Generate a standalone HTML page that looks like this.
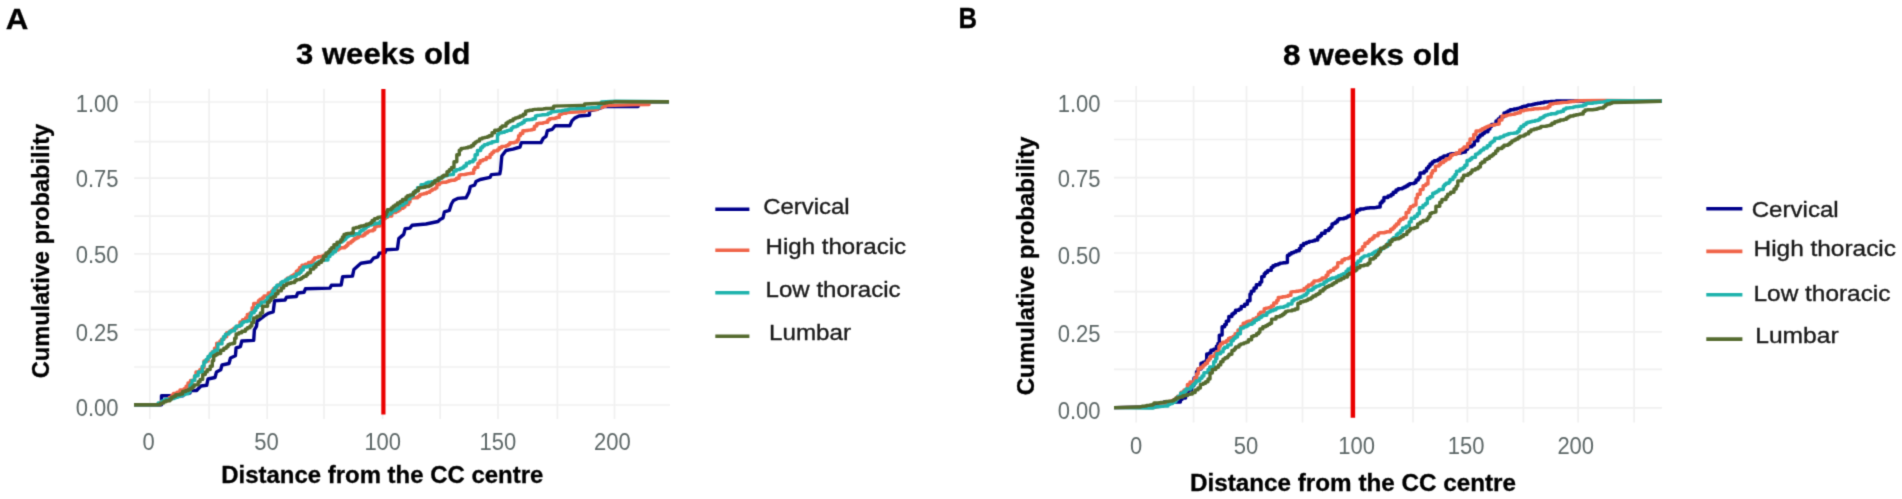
<!DOCTYPE html>
<html lang="en"><head><meta charset="utf-8"><title>Cumulative probability of distance from the CC centre</title>
<style>html,body{margin:0;padding:0;background:#fff;}body{width:1902px;height:499px;overflow:hidden;}svg{display:block;}text{font-family:"Liberation Sans",Arial,sans-serif;}</style>
</head><body>
<svg width="1902" height="499" viewBox="0 0 1902 499">
<defs><filter id="soft" x="0" y="0" width="1902" height="499" filterUnits="userSpaceOnUse" color-interpolation-filters="sRGB"><feConvolveMatrix order="3" kernelMatrix="0.0225 0.105 0.0225 0.105 0.49 0.105 0.0225 0.105 0.0225" divisor="1" edgeMode="duplicate" preserveAlpha="false"/></filter></defs>
<g filter="url(#soft)">
<rect width="1902" height="499" fill="#ffffff"/>
<g stroke="#f0f0f0" stroke-width="1.7" fill="none"><line x1="149.8" y1="88.7" x2="149.8" y2="419.0"/><line x1="209.1" y1="88.7" x2="209.1" y2="419.0"/><line x1="267.2" y1="88.7" x2="267.2" y2="419.0"/><line x1="324.0" y1="88.7" x2="324.0" y2="419.0"/><line x1="382.6" y1="88.7" x2="382.6" y2="419.0"/><line x1="440.2" y1="88.7" x2="440.2" y2="419.0"/><line x1="498.0" y1="88.7" x2="498.0" y2="419.0"/><line x1="557.4" y1="88.7" x2="557.4" y2="419.0"/><line x1="614.5" y1="88.7" x2="614.5" y2="419.0"/><line x1="134.2" y1="405.0" x2="670.0" y2="405.0"/><line x1="134.2" y1="367.0" x2="670.0" y2="367.0"/><line x1="134.2" y1="329.7" x2="670.0" y2="329.7"/><line x1="134.2" y1="291.6" x2="670.0" y2="291.6"/><line x1="134.2" y1="253.8" x2="670.0" y2="253.8"/><line x1="134.2" y1="216.1" x2="670.0" y2="216.1"/><line x1="134.2" y1="178.2" x2="670.0" y2="178.2"/><line x1="134.2" y1="141.7" x2="670.0" y2="141.7"/><line x1="134.2" y1="102.0" x2="670.0" y2="102.0"/></g>
<polyline points="134.0,404.8 161.5,404.8 161.5,395.8 183.0,395.8 183.0,393.0 190.0,393.0 190.0,390.5 196.8,390.5 197.5,389.5 201.0,386.0 206.7,385.3 208.0,379.0 215.0,377.5 216.5,372.0 220.7,369.8 222.0,365.0 229.0,363.5 230.5,358.0 235.4,355.8 236.1,348.0 240.4,346.7 241.8,341.0 253.7,340.4 254.4,329.8 256.5,326.3 257.2,320.7 258.4,320.4 264.0,316.1 268.2,313.3 273.2,311.9 274.6,300.7 285.1,300.0 286.5,297.2 296.3,296.5 297.7,293.0 304.0,292.3 305.4,288.8 330.0,288.1 331.4,285.3 341.2,285.0 342.6,276.8 352.5,276.1 353.9,269.5 360.9,263.2 370.7,261.8 373.5,258.2 377.7,256.8 379.1,253.3 385.0,252.6 386.1,249.8 397.4,249.1 398.8,238.6 403.7,234.4 405.1,228.8 410.0,228.1 412.1,225.3 426.0,224.0 438.0,221.5 440.0,219.5 443.0,218.0 444.4,211.8 449.3,210.4 451.4,204.0 453.5,200.5 457.7,198.4 466.1,197.7 469.0,192.1 470.4,186.5 474.6,185.1 476.0,181.6 480.2,179.5 490.0,177.4 491.4,174.6 499.8,173.9 500.6,169.5 501.8,156.1 506.0,150.5 513.0,149.1 520.0,147.0 521.4,142.6 541.0,142.6 543.2,138.4 546.0,136.3 547.4,130.7 552.3,129.3 555.1,125.8 569.8,125.8 571.9,120.9 574.7,118.1 579.0,116.0 588.1,115.3 589.5,115.0 589.5,110.8 598.0,109.0 604.0,106.6 638.0,106.6 640.0,101.8 669.0,101.8" fill="none" stroke="#00008b" stroke-width="3.40" stroke-linejoin="round" stroke-linecap="butt"/>
<polyline points="134.0,404.8 156.0,404.8 157.7,404.8 157.7,404.0 160.8,404.0 160.8,401.7 164.0,401.7 164.0,401.0 167.3,401.0 167.3,398.9 169.3,398.9 169.3,397.4 172.0,397.4 172.0,395.0 173.5,395.0 173.5,393.4 177.0,393.4 177.0,392.1 180.0,392.1 180.0,390.0 184.1,390.0 184.1,388.7 186.1,388.7 186.1,386.3 188.0,386.3 188.0,383.0 190.5,383.0 190.5,380.5 194.4,380.5 194.4,376.3 196.0,376.3 196.0,372.0 199.8,372.0 199.8,369.7 201.8,369.7 201.8,367.7 204.0,367.7 204.0,361.0 208.2,361.0 208.2,357.4 209.8,357.4 209.8,355.2 212.0,355.2 212.0,352.0 214.5,352.0 214.5,348.2 216.7,348.2 216.7,343.1 220.0,343.1 220.0,341.0 221.5,341.0 221.5,339.3 224.0,339.3 224.0,336.8 226.7,336.8 226.7,332.6 230.0,332.6 230.0,331.0 231.9,331.0 231.9,329.7 233.8,329.7 233.8,328.2 236.8,328.2 236.8,326.2 240.0,326.2 240.0,322.0 242.6,322.0 242.6,319.8 245.7,319.8 245.7,317.6 247.3,317.6 247.3,314.4 250.0,314.4 250.0,313.0 252.1,313.0 252.1,307.7 253.7,307.7 253.7,303.4 258.4,303.4 258.4,300.7 260.0,300.7 260.0,299.1 262.5,299.1 262.5,297.6 264.0,297.6 264.0,296.0 268.2,296.0 268.2,293.0 271.5,293.0 271.5,291.3 273.4,291.3 273.4,288.8 276.5,288.8 276.5,286.7 278.0,286.7 278.0,285.0 280.5,285.0 280.5,282.9 282.1,282.9 282.1,281.6 285.4,281.6 285.4,280.1 287.1,280.1 287.1,278.3 290.0,278.3 290.0,277.0 291.7,277.0 291.7,275.8 293.9,275.8 293.9,274.3 296.3,274.3 296.3,271.2 298.0,271.2 298.0,269.9 299.6,269.9 299.6,267.4 302.0,267.4 302.0,265.1 305.3,265.1 305.3,264.1 308.5,264.1 308.5,262.5 311.8,262.5 311.8,261.4 313.2,261.4 313.2,259.6 314.7,259.6 314.7,257.6 318.1,257.6 318.1,256.8 321.4,256.8 321.4,256.1 324.0,256.1 324.0,255.0 326.1,255.0 326.1,253.4 330.8,253.4 330.8,252.5 332.2,252.5 332.2,251.8 334.6,251.8 334.6,250.6 336.0,250.6 336.0,250.0 338.3,250.0 338.3,248.8 340.0,248.8 340.0,247.8 345.0,247.8 345.0,246.5 346.5,246.5 346.5,245.3 348.0,245.3 348.0,243.0 351.0,243.0 351.0,241.4 352.7,241.4 352.7,240.3 354.1,240.3 354.1,238.8 356.4,238.8 356.4,237.7 358.4,237.7 358.4,236.1 363.2,236.1 363.2,235.0 365.0,235.0 365.0,233.0 367.5,233.0 367.5,231.8 368.9,231.8 368.9,230.9 372.9,230.9 372.9,229.7 374.7,229.7 374.7,226.9 376.3,226.9 376.3,226.0 379.8,226.0 379.8,222.4 382.0,222.4 382.0,220.0 383.6,220.0 383.6,218.6 385.5,218.6 385.5,217.3 387.6,217.3 387.6,216.0 391.8,216.0 391.8,212.6 396.0,212.6 396.0,211.4 398.2,211.4 398.2,210.0 400.2,210.0 400.2,208.4 403.0,208.4 403.0,207.1 404.9,207.1 404.9,204.6 408.6,204.6 408.6,202.1 410.0,202.1 410.0,198.4 414.2,197.7 417.8,197.7 417.8,196.4 419.7,196.4 419.7,194.8 421.2,194.8 421.2,194.1 424.0,194.1 424.0,193.5 426.7,193.5 426.7,192.4 429.7,192.4 429.7,191.1 431.1,191.1 431.1,190.2 432.5,190.2 432.5,189.1 435.3,189.1 435.3,187.9 436.9,187.9 436.9,184.5 439.5,184.5 439.5,183.0 440.9,183.0 440.9,182.6 442.6,182.6 442.6,182.2 446.5,182.2 446.5,181.6 448.7,181.6 448.7,180.7 450.9,180.7 450.9,180.3 454.9,180.3 454.9,179.5 456.4,179.5 456.4,178.2 459.1,178.2 459.1,175.3 460.5,175.3 460.5,174.6 465.2,174.6 465.2,174.3 466.5,174.3 466.5,173.9 467.9,173.9 467.9,173.6 470.4,173.6 470.4,173.2 473.7,173.2 473.7,169.5 474.9,169.5 474.9,167.4 477.9,167.4 477.9,163.2 480.0,163.2 480.0,160.7 482.9,160.7 482.9,159.6 486.3,159.6 486.3,157.5 490.1,157.5 490.1,154.4 491.9,154.4 491.9,152.6 493.7,152.6 493.7,150.9 497.5,150.9 497.5,149.8 499.1,149.8 499.1,147.7 501.6,147.7 501.6,146.4 506.0,146.4 506.0,145.6 508.2,145.6 508.2,144.4 509.8,144.4 509.8,142.8 514.4,142.8 514.4,142.1 517.2,142.1 517.2,140.0 518.6,140.0 518.6,135.8 520.3,135.8 520.3,133.5 522.8,133.5 522.8,130.7 525.9,130.7 525.9,130.5 527.9,130.5 527.9,130.1 531.1,130.1 531.1,129.8 532.6,129.8 532.6,129.3 534.4,129.3 534.4,126.1 536.8,126.1 536.8,123.7 538.8,123.7 538.8,123.2 543.1,123.2 543.1,122.6 545.3,122.6 545.3,122.3 547.8,122.3 547.8,119.9 549.5,119.9 549.5,118.8 551.5,118.8 551.5,118.5 555.2,118.5 555.2,118.0 556.5,118.0 556.5,117.4 559.3,117.4 559.3,114.6 560.9,114.6 560.9,114.1 562.2,114.1 562.2,113.3 566.3,113.3 566.3,112.5 581.8,111.8 584.6,111.8 584.6,110.4 586.7,110.4 586.7,110.1 589.6,110.1 589.6,109.9 592.5,109.9 592.5,109.8 594.4,109.8 594.4,109.6 597.3,109.6 597.3,108.1 600.0,108.1 600.0,107.5 602.5,107.5 602.5,106.4 605.6,106.4 605.6,105.6 632.0,104.8 647.0,104.6 649.0,104.6 649.0,101.8 669.0,101.8" fill="none" stroke="#f0654a" stroke-width="3.40" stroke-linejoin="round" stroke-linecap="butt"/>
<polyline points="134.0,404.8 156.0,404.8 158.2,404.8 158.2,402.9 162.0,402.9 162.0,401.0 164.0,401.0 164.0,400.1 165.5,400.1 165.5,399.2 171.0,399.2 171.0,398.5 174.2,398.5 174.2,397.8 175.9,397.8 175.9,397.2 177.8,397.2 177.8,396.5 180.0,396.5 180.0,395.5 183.0,395.5 183.0,394.6 185.3,394.6 185.3,393.9 188.0,393.9 188.0,392.0 190.0,392.0 190.0,385.0 192.0,385.0 192.0,380.4 194.8,380.4 194.8,375.7 198.2,375.7 198.2,372.0 202.3,372.0 202.3,366.1 203.9,366.1 203.9,362.0 206.1,362.0 206.1,359.4 208.0,359.4 208.0,356.5 210.4,356.5 210.4,353.6 212.8,353.6 212.8,351.7 215.0,351.7 215.0,350.2 217.9,350.2 217.9,343.9 222.0,343.9 222.0,339.6 223.5,339.6 223.5,336.8 225.4,336.8 225.4,334.1 229.0,334.1 229.0,332.0 231.0,332.0 231.0,330.7 234.7,330.7 234.7,328.3 236.0,328.3 236.0,326.3 239.7,326.3 239.7,325.2 241.8,325.2 241.8,322.8 243.5,322.8 243.5,321.6 247.4,321.6 247.4,320.7 250.0,320.7 250.0,316.1 251.2,316.1 251.2,312.7 254.2,312.7 254.2,310.5 255.8,310.5 255.8,307.6 257.7,307.6 257.7,305.3 261.2,305.3 261.2,302.1 265.1,302.1 265.1,300.7 267.3,300.7 267.3,297.5 269.3,297.5 269.3,296.3 271.0,296.3 271.0,294.4 272.8,294.4 272.8,290.5 274.9,290.5 274.9,287.4 276.9,287.4 276.9,285.1 281.0,285.1 281.0,282.5 282.6,282.5 282.6,281.5 285.3,281.5 285.3,280.0 288.0,280.0 288.0,278.2 290.7,278.2 290.7,276.9 294.5,276.9 294.5,276.1 296.3,276.1 296.3,274.0 299.4,274.0 299.4,272.6 301.1,272.6 301.1,270.0 303.3,270.0 303.3,267.0 307.1,267.0 307.1,266.7 308.5,266.7 308.5,266.0 310.4,266.0 310.4,265.6 313.9,265.6 313.9,264.5 315.7,264.5 315.7,263.1 317.4,263.1 317.4,262.1 319.2,262.1 319.2,261.1 321.2,261.1 321.2,260.4 324.4,260.4 324.4,260.0 328.0,260.0 328.0,256.6 330.0,256.6 330.0,254.0 332.8,254.0 332.8,251.8 335.6,251.8 335.6,249.0 337.0,249.0 337.0,246.3 339.3,246.3 339.3,242.1 342.2,242.1 342.2,240.7 344.0,240.7 344.0,239.3 345.8,239.3 345.8,237.3 347.4,237.3 347.4,236.3 349.0,236.3 349.0,235.3 353.9,235.3 353.9,234.7 355.3,234.7 355.3,233.7 359.8,233.7 359.8,231.5 361.2,231.5 361.2,230.3 363.3,230.3 363.3,229.0 365.0,229.0 365.0,228.1 366.3,228.1 366.3,226.4 368.5,226.4 368.5,225.1 371.7,225.1 371.7,224.4 373.7,224.4 373.7,223.8 376.3,223.8 376.3,223.2 380.2,223.2 380.2,221.2 382.0,221.2 382.0,218.0 383.5,218.0 383.5,216.6 387.5,216.6 387.5,214.0 390.9,214.0 390.9,212.1 392.6,212.1 392.6,210.6 396.0,210.6 396.0,209.3 397.4,209.3 397.4,208.4 399.4,208.4 399.4,205.4 402.9,205.4 402.9,204.1 404.4,204.1 404.4,202.8 406.6,202.8 406.6,199.0 410.0,199.0 410.0,196.0 413.1,196.0 413.1,193.3 415.0,193.3 415.0,191.0 417.5,191.0 417.5,187.7 421.0,187.7 421.0,184.6 424.7,184.6 424.7,184.0 426.1,184.0 426.1,183.0 428.0,183.0 428.0,182.3 431.5,182.3 431.5,181.8 434.1,181.8 434.1,181.1 436.0,181.1 436.0,180.0 439.7,180.0 439.7,177.8 442.1,177.8 442.1,177.0 443.7,177.0 443.7,176.0 445.9,176.0 445.9,175.6 447.8,175.6 447.8,174.9 450.7,174.9 450.7,174.6 453.5,174.6 453.5,171.0 456.3,171.0 456.3,169.6 460.1,169.6 460.1,168.4 462.2,168.4 462.2,167.7 463.9,167.7 463.9,166.0 466.3,166.0 466.3,163.1 469.5,163.1 469.5,161.8 473.1,161.8 473.1,159.8 475.1,159.8 475.1,154.7 477.4,154.7 477.4,150.5 480.7,150.5 480.7,147.7 482.4,147.7 482.4,146.1 484.3,146.1 484.3,144.6 487.7,144.6 487.7,143.5 489.5,143.5 489.5,143.0 492.0,143.0 492.0,141.8 494.7,141.8 494.7,141.4 497.5,141.4 497.5,134.4 498.7,134.4 498.7,132.9 501.8,132.9 501.8,132.3 504.6,132.3 504.6,131.4 506.9,131.4 506.9,130.6 508.8,130.6 508.8,130.2 511.4,130.2 511.4,128.1 513.0,128.1 513.0,126.7 516.2,126.7 516.2,126.1 518.0,126.1 518.0,124.5 520.0,124.5 520.0,123.7 522.1,123.7 522.1,122.5 524.2,122.5 524.2,120.2 526.5,120.2 526.5,119.7 530.1,119.7 530.1,119.5 532.6,119.5 532.6,118.8 535.4,118.8 535.4,116.0 536.9,116.0 536.9,115.4 539.7,115.4 539.7,115.1 542.1,115.1 542.1,114.8 545.3,114.8 545.3,114.6 548.1,114.6 548.1,113.3 550.9,113.3 550.9,111.8 554.2,111.8 554.2,111.5 556.3,111.5 556.3,111.2 557.9,111.2 557.9,111.0 562.1,111.0 562.1,110.4 564.7,110.4 564.7,110.0 567.6,110.0 567.6,109.5 569.1,109.5 569.1,108.9 575.9,108.9 575.9,108.8 577.9,108.8 577.9,108.6 580.4,108.6 580.4,108.5 583.6,108.5 583.6,108.3 585.1,108.3 585.1,108.1 587.5,108.1 587.5,108.0 588.9,108.0 588.9,107.9 590.9,107.9 590.9,107.8 592.4,107.8 592.4,107.7 594.1,107.7 594.1,107.6 595.8,107.6 595.8,107.5 599.0,107.5 599.0,104.4 601.4,104.4 601.4,101.9 616.0,101.2 669.0,101.8" fill="none" stroke="#1fb3ad" stroke-width="3.40" stroke-linejoin="round" stroke-linecap="butt"/>
<polyline points="134.0,404.8 156.0,404.8 160.3,404.8 160.3,403.5 162.0,403.5 162.0,403.0 163.7,403.0 163.7,401.7 166.0,401.7 166.0,400.7 170.0,400.7 170.0,399.0 171.7,399.0 171.7,397.1 173.9,397.1 173.9,396.2 175.7,396.2 175.7,394.8 180.0,394.8 180.0,394.0 182.6,394.0 182.6,391.5 185.7,391.5 185.7,390.5 188.4,390.5 188.4,389.5 190.7,389.5 190.7,388.3 192.7,388.3 192.7,386.6 194.2,386.6 194.2,384.9 198.2,384.9 198.2,381.8 200.1,381.8 200.1,379.4 202.7,379.4 202.7,374.6 205.3,374.6 205.3,371.9 207.2,371.9 207.2,369.6 210.2,369.6 210.2,366.3 212.3,366.3 212.3,360.7 213.7,360.7 213.7,355.8 215.5,355.8 215.5,354.7 217.3,354.7 217.3,353.5 220.7,353.5 220.7,350.2 223.8,350.2 223.8,348.3 226.3,348.3 226.3,346.7 228.0,346.7 228.0,344.8 229.6,344.8 229.6,343.9 232.6,343.9 232.6,343.2 234.7,343.2 234.7,338.2 236.1,338.2 236.1,334.0 238.8,334.0 238.8,332.7 241.8,332.7 241.8,331.2 245.4,331.2 245.4,329.1 247.4,329.1 247.4,327.7 250.0,327.7 250.0,326.0 251.8,326.0 251.8,322.6 253.7,322.6 253.7,317.9 257.0,317.9 257.0,316.1 260.4,316.1 260.4,313.0 262.6,313.0 262.6,306.3 267.6,306.3 267.6,302.3 269.4,302.3 269.4,300.6 271.0,300.6 271.0,297.9 273.4,297.9 273.4,296.6 275.6,296.6 275.6,293.8 278.0,293.8 278.0,290.9 281.3,290.9 281.3,288.1 283.7,288.1 283.7,285.4 286.5,285.4 286.5,283.9 288.6,283.9 288.6,283.2 291.0,283.2 291.0,282.5 294.7,282.5 294.7,280.8 296.3,280.8 296.3,279.6 300.1,279.6 300.1,278.8 301.7,278.8 301.7,277.6 303.4,277.6 303.4,276.4 306.1,276.4 306.1,274.7 307.7,274.7 307.7,272.9 310.4,272.9 310.4,269.1 313.8,269.1 313.8,267.0 316.0,267.0 316.0,264.2 318.9,264.2 318.9,262.3 321.6,262.3 321.6,260.0 323.4,260.0 323.4,256.2 326.0,256.2 326.0,253.0 328.5,253.0 328.5,251.4 330.0,251.4 330.0,249.1 331.5,249.1 331.5,247.7 333.9,247.7 333.9,244.7 337.0,244.7 337.0,242.1 340.8,242.1 340.8,239.8 342.4,239.8 342.4,237.0 344.0,237.0 344.0,234.4 346.0,234.4 346.0,233.8 347.5,233.8 347.5,233.4 351.0,233.4 351.0,233.0 353.2,233.0 353.2,228.1 356.0,228.1 356.0,227.5 359.2,227.5 359.2,226.5 360.9,226.5 360.9,226.0 363.8,226.0 363.8,225.5 366.2,225.5 366.2,224.2 368.7,224.2 368.7,223.6 370.7,223.6 370.7,222.5 372.1,222.5 372.1,220.4 374.5,220.4 374.5,218.6 377.7,218.6 377.7,217.5 381.2,216.8 384.6,216.8 384.6,215.2 386.1,215.2 386.1,211.9 387.4,211.9 387.4,209.7 391.2,209.7 391.2,208.0 393.2,208.0 393.2,206.3 395.1,206.3 395.1,205.0 397.4,205.0 397.4,203.0 400.2,203.0 400.2,201.4 402.5,201.4 402.5,199.5 406.0,199.5 406.0,197.0 407.5,197.0 407.5,195.8 410.0,195.8 410.0,194.9 413.4,194.9 413.4,192.2 415.6,192.2 415.6,190.7 418.4,190.7 418.4,187.9 420.2,187.9 420.2,187.6 423.5,187.6 423.5,187.2 425.4,187.2 425.4,186.5 429.2,186.5 429.2,185.6 431.1,185.6 431.1,184.6 432.5,184.6 432.5,183.0 434.7,183.0 434.7,180.7 438.1,180.7 438.1,178.1 442.1,178.1 442.1,176.3 443.7,176.3 443.7,175.3 447.0,175.3 447.0,171.6 449.3,171.6 449.3,169.6 451.5,169.6 451.5,167.4 454.0,167.4 454.0,161.8 456.8,161.8 456.8,154.7 459.3,154.7 459.3,150.1 461.1,150.1 461.1,148.4 463.5,148.4 463.5,148.1 465.9,148.1 465.9,147.7 468.1,147.7 468.1,147.0 471.2,147.0 471.2,145.7 473.4,145.7 473.4,143.7 475.1,143.7 475.1,142.1 476.9,142.1 476.9,141.1 479.5,141.1 479.5,138.9 482.1,138.9 482.1,137.9 484.6,137.9 484.6,137.4 487.2,137.4 487.2,136.7 489.1,136.7 489.1,135.8 492.0,135.8 492.0,132.8 494.7,132.8 494.7,130.2 498.6,130.2 498.6,129.4 500.4,129.4 500.4,127.4 502.1,127.4 502.1,126.0 506.0,126.0 506.0,123.2 507.8,123.2 507.8,121.9 510.0,121.9 510.0,120.7 513.0,120.7 513.0,118.9 515.2,118.9 515.2,117.9 517.7,117.9 517.7,117.3 520.0,117.3 520.0,116.0 523.2,116.0 523.2,114.2 525.6,114.2 525.6,111.1 527.5,111.1 527.5,110.8 529.3,110.8 529.3,110.3 532.6,110.3 532.6,109.6 534.1,109.6 534.1,109.4 537.5,109.4 537.5,109.3 542.2,109.3 542.2,109.1 543.8,109.1 543.8,108.7 545.4,108.7 545.4,108.5 548.6,108.5 548.6,108.4 550.9,108.4 550.9,108.2 553.7,108.2 553.7,106.1 581.8,105.4 584.6,105.4 584.6,104.0 601.4,103.3 605.3,103.3 605.3,102.8 607.6,102.8 607.6,102.4 609.4,102.4 609.4,102.3 612.0,102.3 612.0,102.1 614.0,102.1 614.0,101.8 669.0,101.8" fill="none" stroke="#556b2f" stroke-width="3.40" stroke-linejoin="round" stroke-linecap="butt"/>
<line x1="383.4" y1="89.0" x2="383.4" y2="414.5" stroke="#ea0000" stroke-width="4.2"/>
<text x="75.7" y="416.0" font-size="23.0" fill="#5e6868" textLength="42.8" lengthAdjust="spacingAndGlyphs">0.00</text>
<text x="75.7" y="340.5" font-size="23.0" fill="#5e6868" textLength="42.8" lengthAdjust="spacingAndGlyphs">0.25</text>
<text x="75.7" y="262.5" font-size="23.0" fill="#5e6868" textLength="42.8" lengthAdjust="spacingAndGlyphs">0.50</text>
<text x="75.7" y="186.6" font-size="23.0" fill="#5e6868" textLength="42.8" lengthAdjust="spacingAndGlyphs">0.75</text>
<text x="75.7" y="112.4" font-size="23.0" fill="#5e6868" textLength="42.8" lengthAdjust="spacingAndGlyphs">1.00</text>
<text x="142.4" y="450.0" font-size="23.0" fill="#5e6868" textLength="12.2" lengthAdjust="spacingAndGlyphs">0</text>
<text x="254.3" y="450.0" font-size="23.0" fill="#5e6868" textLength="24.5" lengthAdjust="spacingAndGlyphs">50</text>
<text x="364.4" y="450.0" font-size="23.0" fill="#5e6868" textLength="36.7" lengthAdjust="spacingAndGlyphs">100</text>
<text x="479.5" y="450.0" font-size="23.0" fill="#5e6868" textLength="36.7" lengthAdjust="spacingAndGlyphs">150</text>
<text x="594.0" y="450.0" font-size="23.0" fill="#5e6868" textLength="36.7" lengthAdjust="spacingAndGlyphs">200</text>
<text x="296.0" y="64.0" font-size="30.0" font-weight="bold" fill="#000" stroke="#000" stroke-width="0.3" textLength="174.5" lengthAdjust="spacingAndGlyphs">3 weeks old</text>
<text x="221.3" y="483.0" font-size="23.2" font-weight="bold" fill="#000" stroke="#000" stroke-width="0.3" textLength="322.0" lengthAdjust="spacingAndGlyphs">Distance from the CC centre</text>
<text transform="translate(48.6,378.3) rotate(-90)" font-size="23.5" font-weight="bold" fill="#000" stroke="#000" stroke-width="0.3" textLength="254.5" lengthAdjust="spacingAndGlyphs">Cumulative probability</text>
<text x="5.8" y="28.8" font-size="30.0" font-weight="bold" fill="#000" stroke="#000" stroke-width="0.3" textLength="22.6" lengthAdjust="spacingAndGlyphs">A</text>
<line x1="715.3" y1="209.3" x2="749.4" y2="209.3" stroke="#00008b" stroke-width="3.6"/>
<text x="763.2" y="214.3" font-size="22.0" fill="#1a1a1a" stroke="#1a1a1a" stroke-width="0.35" textLength="86.5" lengthAdjust="spacingAndGlyphs">Cervical</text>
<line x1="715.3" y1="250.2" x2="749.4" y2="250.2" stroke="#f0654a" stroke-width="3.6"/>
<text x="765.6" y="254.0" font-size="22.0" fill="#1a1a1a" stroke="#1a1a1a" stroke-width="0.35" textLength="140.5" lengthAdjust="spacingAndGlyphs">High thoracic</text>
<line x1="715.3" y1="292.8" x2="749.4" y2="292.8" stroke="#1fb3ad" stroke-width="3.6"/>
<text x="765.6" y="297.4" font-size="22.0" fill="#1a1a1a" stroke="#1a1a1a" stroke-width="0.35" textLength="135.0" lengthAdjust="spacingAndGlyphs">Low thoracic</text>
<line x1="715.3" y1="336.2" x2="749.4" y2="336.2" stroke="#556b2f" stroke-width="3.6"/>
<text x="769.0" y="339.9" font-size="22.0" fill="#1a1a1a" stroke="#1a1a1a" stroke-width="0.35" textLength="82.0" lengthAdjust="spacingAndGlyphs">Lumbar</text>
<g stroke="#f0f0f0" stroke-width="1.7" fill="none"><line x1="1136.2" y1="86.0" x2="1136.2" y2="422.4"/><line x1="1193.6" y1="86.0" x2="1193.6" y2="422.4"/><line x1="1246.5" y1="86.0" x2="1246.5" y2="422.4"/><line x1="1302.5" y1="86.0" x2="1302.5" y2="422.4"/><line x1="1413.0" y1="86.0" x2="1413.0" y2="422.4"/><line x1="1467.4" y1="86.0" x2="1467.4" y2="422.4"/><line x1="1523.4" y1="86.0" x2="1523.4" y2="422.4"/><line x1="1578.1" y1="86.0" x2="1578.1" y2="422.4"/><line x1="1634.1" y1="86.0" x2="1634.1" y2="422.4"/><line x1="1114.0" y1="407.8" x2="1662.0" y2="407.8"/><line x1="1114.0" y1="369.3" x2="1662.0" y2="369.3"/><line x1="1114.0" y1="331.9" x2="1662.0" y2="331.9"/><line x1="1114.0" y1="291.7" x2="1662.0" y2="291.7"/><line x1="1114.0" y1="253.0" x2="1662.0" y2="253.0"/><line x1="1114.0" y1="216.1" x2="1662.0" y2="216.1"/><line x1="1114.0" y1="177.6" x2="1662.0" y2="177.6"/><line x1="1114.0" y1="139.5" x2="1662.0" y2="139.5"/><line x1="1114.0" y1="101.2" x2="1662.0" y2="101.2"/></g>
<polyline points="1114.0,407.6 1150.0,407.0 1151.7,407.0 1151.7,406.6 1155.4,406.6 1155.4,405.7 1157.8,405.7 1157.8,404.5 1160.0,404.5 1160.0,404.0 1161.1,404.0 1161.1,402.9 1164.0,402.9 1164.0,402.0 1178.0,402.0 1180.4,402.0 1180.4,399.4 1182.0,399.4 1182.0,398.0 1185.6,398.0 1185.6,395.1 1188.0,395.1 1188.0,390.0 1191.7,390.0 1191.7,385.5 1194.0,385.5 1194.0,378.0 1196.5,378.0 1196.5,371.7 1198.0,371.7 1198.0,369.0 1201.0,369.0 1201.0,363.2 1203.2,363.2 1203.2,362.2 1206.0,362.2 1206.0,360.4 1206.7,360.4 1206.7,354.0 1209.3,354.0 1209.3,352.9 1210.9,352.9 1210.9,350.3 1213.7,350.3 1213.7,349.1 1216.4,349.1 1216.4,346.2 1217.9,346.2 1217.9,343.5 1219.3,343.5 1219.3,335.1 1222.1,335.1 1222.1,326.7 1224.7,326.7 1224.7,324.5 1226.3,324.5 1226.3,321.1 1228.8,321.1 1228.8,316.5 1231.9,316.5 1231.9,314.0 1233.8,314.0 1233.8,312.7 1235.5,312.7 1235.5,310.3 1239.0,310.3 1239.0,309.1 1241.2,309.1 1241.2,306.4 1244.6,306.4 1244.6,304.2 1247.4,304.2 1247.4,300.7 1250.0,300.7 1250.0,294.0 1251.3,294.0 1251.3,291.1 1254.0,291.1 1254.0,288.0 1256.3,288.0 1256.3,284.7 1260.0,284.7 1260.0,282.1 1261.7,282.1 1261.7,276.6 1264.2,276.6 1264.2,273.7 1265.6,273.7 1265.6,272.2 1267.7,272.2 1267.7,270.4 1271.2,270.4 1271.2,267.4 1273.0,267.4 1273.0,265.7 1275.3,265.7 1275.3,264.8 1278.2,264.8 1278.2,263.9 1279.9,263.9 1279.9,263.1 1283.2,263.1 1283.2,262.8 1286.0,262.8 1286.0,262.5 1287.4,262.5 1287.4,255.4 1289.2,255.4 1289.2,254.0 1291.3,254.0 1291.3,252.8 1293.7,252.8 1293.7,251.9 1296.1,251.9 1296.1,250.7 1299.3,250.7 1299.3,248.4 1300.9,248.4 1300.9,245.5 1303.5,245.5 1303.5,243.5 1306.4,243.5 1306.4,242.4 1309.1,242.4 1309.1,241.4 1312.4,241.4 1312.4,240.9 1314.7,240.9 1314.7,240.0 1317.8,240.0 1317.8,236.9 1320.0,236.9 1320.0,235.5 1321.5,235.5 1321.5,233.2 1325.1,233.2 1325.1,230.6 1328.8,230.6 1328.8,228.6 1330.6,228.6 1330.6,227.1 1332.0,227.1 1332.0,224.0 1333.7,224.0 1333.7,223.2 1335.5,223.2 1335.5,222.0 1337.4,222.0 1337.4,219.9 1338.9,219.9 1338.9,218.7 1344.0,218.7 1344.0,218.0 1346.4,218.0 1346.4,217.1 1348.0,217.1 1348.0,216.0 1350.8,216.0 1350.8,214.8 1353.0,214.8 1353.0,214.0 1354.7,214.0 1354.7,212.4 1357.0,212.4 1357.0,210.0 1360.0,210.0 1360.0,209.0 1363.8,209.0 1363.8,208.6 1365.4,208.6 1365.4,208.3 1367.0,208.3 1367.0,208.0 1369.5,208.0 1369.5,207.8 1374.6,207.8 1374.6,207.6 1376.4,207.6 1376.4,207.2 1378.0,207.2 1378.0,207.0 1380.2,207.0 1380.2,202.9 1382.0,202.9 1382.0,201.0 1383.9,201.0 1383.9,197.5 1388.0,197.5 1388.0,196.0 1391.1,196.0 1391.1,194.5 1393.2,194.5 1393.2,192.2 1396.0,192.2 1396.0,190.0 1398.2,190.0 1398.2,188.7 1402.4,188.7 1402.4,187.9 1404.1,187.9 1404.1,187.0 1406.0,187.0 1406.0,186.0 1407.9,186.0 1407.9,184.8 1409.6,184.8 1409.6,183.6 1414.2,183.6 1414.2,182.6 1416.0,182.6 1416.0,180.0 1418.3,180.0 1418.3,177.7 1420.0,177.7 1420.0,173.0 1424.2,173.0 1424.2,171.1 1426.6,171.1 1426.6,168.1 1428.5,168.1 1428.5,166.3 1430.0,166.3 1430.0,164.0 1432.2,164.0 1432.2,161.9 1434.2,161.9 1434.2,160.7 1438.0,160.7 1438.0,159.5 1440.0,159.5 1440.0,158.0 1441.9,158.0 1441.9,157.3 1443.8,157.3 1443.8,155.9 1447.9,155.9 1447.9,154.6 1450.0,154.6 1450.0,154.0 1451.4,154.0 1451.4,153.8 1455.4,153.8 1455.4,153.5 1457.2,153.5 1457.2,153.3 1458.9,153.3 1458.9,153.1 1461.5,153.1 1461.5,152.2 1464.0,152.2 1464.0,152.0 1465.5,152.0 1465.5,149.2 1467.7,149.2 1467.7,146.7 1472.0,146.7 1472.0,145.0 1474.3,145.0 1474.3,140.9 1477.9,140.9 1477.9,137.1 1480.0,137.1 1480.0,135.0 1482.7,135.0 1482.7,133.3 1484.6,133.3 1484.6,131.7 1488.0,131.7 1488.0,129.0 1489.9,129.0 1489.9,126.4 1491.6,126.4 1491.6,124.5 1496.0,124.5 1496.0,121.0 1498.2,121.0 1498.2,119.0 1500.4,119.0 1500.4,116.7 1504.0,116.7 1504.0,113.0 1506.5,113.0 1506.5,111.9 1507.9,111.9 1507.9,110.9 1510.1,110.9 1510.1,109.7 1514.0,109.7 1514.0,109.0 1517.0,109.0 1517.0,108.4 1519.8,108.4 1519.8,107.7 1522.0,107.7 1522.0,106.8 1523.8,106.8 1523.8,106.2 1526.5,106.2 1526.5,105.6 1528.0,105.6 1528.0,105.0 1531.3,105.0 1531.3,104.7 1532.9,104.7 1532.9,104.3 1535.0,104.3 1535.0,103.7 1537.6,103.7 1537.6,103.2 1540.7,103.2 1540.7,102.7 1544.0,102.7 1544.0,102.0 1547.1,102.0 1547.1,101.9 1548.5,101.9 1548.5,101.7 1550.6,101.7 1550.6,101.5 1552.2,101.5 1552.2,101.4 1556.0,101.4 1556.0,101.0 1662.0,101.0" fill="none" stroke="#00008b" stroke-width="3.40" stroke-linejoin="round" stroke-linecap="butt"/>
<polyline points="1114.0,407.6 1150.0,407.5 1154.2,407.5 1154.2,407.2 1156.0,407.2 1156.0,406.8 1157.9,406.8 1157.9,406.2 1159.9,406.2 1159.9,405.7 1162.7,405.7 1162.7,405.4 1164.0,405.4 1164.0,405.0 1166.0,405.0 1166.0,403.7 1168.9,403.7 1168.9,401.5 1171.6,401.5 1171.6,400.7 1173.5,400.7 1173.5,399.7 1176.0,399.7 1176.0,398.0 1177.6,398.0 1177.6,396.3 1181.1,396.3 1181.1,392.3 1184.0,392.3 1184.0,390.0 1187.4,390.0 1187.4,384.5 1190.0,384.5 1190.0,382.0 1194.7,382.0 1194.7,377.9 1196.7,377.9 1196.7,373.8 1198.2,373.8 1198.2,368.8 1200.7,368.8 1200.7,367.2 1203.1,367.2 1203.1,365.1 1205.3,365.1 1205.3,363.2 1207.5,363.2 1207.5,360.4 1209.0,360.4 1209.0,358.7 1210.5,358.7 1210.5,356.3 1215.0,356.3 1215.0,353.3 1216.4,353.3 1216.4,351.6 1219.0,351.6 1219.0,346.3 1220.3,346.3 1220.3,343.9 1222.6,343.9 1222.6,342.2 1226.3,342.2 1226.3,340.7 1228.4,340.7 1228.4,338.4 1230.1,338.4 1230.1,337.6 1233.0,337.6 1233.0,336.5 1235.1,336.5 1235.1,333.6 1238.0,333.6 1238.0,330.0 1240.8,330.0 1240.8,326.5 1243.2,326.5 1243.2,323.2 1246.1,323.2 1246.1,321.9 1247.4,321.9 1247.4,321.4 1250.2,321.0 1253.0,321.0 1253.0,319.0 1256.2,319.0 1256.2,317.4 1258.6,317.4 1258.6,314.0 1260.3,314.0 1260.3,312.1 1264.2,312.1 1264.2,308.8 1265.7,308.8 1265.7,308.1 1268.3,308.1 1268.3,307.6 1271.2,307.6 1271.2,306.0 1273.7,306.0 1273.7,303.0 1276.7,303.0 1276.7,300.4 1278.2,300.4 1278.2,297.5 1280.9,297.5 1280.9,297.2 1282.6,297.2 1282.6,296.8 1285.4,296.8 1285.4,296.4 1288.1,296.4 1288.1,295.4 1290.9,295.4 1290.9,291.9 1292.5,291.9 1292.5,291.6 1296.2,291.6 1296.2,291.2 1298.5,291.2 1298.5,290.9 1300.7,290.9 1300.7,290.5 1304.0,290.5 1304.0,288.5 1306.6,288.5 1306.6,286.7 1308.4,286.7 1308.4,285.0 1312.0,285.0 1312.0,283.0 1313.9,283.0 1313.9,280.9 1318.6,280.9 1318.6,280.3 1320.3,280.3 1320.3,279.5 1322.0,279.5 1322.0,278.0 1326.1,278.0 1326.1,275.3 1328.0,275.3 1328.0,272.0 1330.6,272.0 1330.6,270.4 1333.7,270.4 1333.7,268.2 1336.0,268.2 1336.0,267.0 1337.7,267.0 1337.7,262.8 1342.0,262.8 1342.0,260.0 1344.5,260.0 1344.5,258.6 1348.6,258.6 1348.6,257.7 1350.5,257.7 1350.5,256.5 1352.0,256.5 1352.0,255.0 1354.7,255.0 1354.7,253.6 1358.4,253.6 1358.4,250.9 1360.0,250.9 1360.0,250.0 1362.5,250.0 1362.5,246.6 1364.9,246.6 1364.9,243.3 1368.0,243.3 1368.0,241.4 1369.6,241.4 1369.6,239.5 1372.2,239.5 1372.2,238.0 1374.1,238.0 1374.1,235.7 1378.1,235.7 1378.1,233.2 1379.7,233.2 1379.7,232.7 1384.8,232.7 1384.8,232.2 1386.5,232.2 1386.5,231.8 1390.6,231.8 1390.6,229.2 1393.0,229.2 1393.0,227.7 1394.5,227.7 1394.5,226.0 1396.3,226.0 1396.3,224.0 1398.8,224.0 1398.8,221.0 1400.4,221.0 1400.4,219.2 1403.3,219.2 1403.3,217.7 1406.1,217.7 1406.1,212.5 1408.9,212.5 1408.9,209.3 1410.3,209.3 1410.3,206.6 1413.2,206.6 1413.2,205.1 1416.0,205.1 1416.0,198.1 1417.4,198.1 1417.4,194.2 1420.2,194.2 1420.2,189.6 1423.1,189.6 1423.1,185.6 1425.8,185.6 1425.8,184.0 1428.0,184.0 1428.0,177.0 1431.2,177.0 1431.2,173.2 1432.5,173.2 1432.5,170.6 1435.4,170.6 1435.4,166.1 1439.1,166.1 1439.1,164.4 1440.7,164.4 1440.7,162.5 1443.7,162.5 1443.7,160.8 1446.0,160.8 1446.0,159.0 1449.3,159.0 1449.3,157.7 1450.7,157.7 1450.7,155.3 1452.7,155.3 1452.7,154.4 1456.0,154.4 1456.0,153.0 1459.7,153.0 1459.7,150.0 1462.5,150.0 1462.5,148.7 1464.0,148.7 1464.0,147.0 1467.6,147.0 1467.6,143.4 1470.0,143.4 1470.0,139.0 1473.7,139.0 1473.7,134.5 1476.0,134.5 1476.0,131.0 1480.3,131.0 1480.3,130.0 1482.2,130.0 1482.2,128.8 1484.5,128.8 1484.5,127.6 1486.0,127.6 1486.0,127.0 1487.7,127.0 1487.7,126.1 1489.7,126.1 1489.7,125.4 1493.6,125.4 1493.6,124.8 1495.0,124.8 1495.0,124.4 1498.0,124.4 1498.0,124.0 1499.2,124.0 1499.2,120.0 1502.0,120.0 1502.0,116.0 1506.4,116.0 1506.4,115.3 1507.9,115.3 1507.9,114.9 1510.3,114.9 1510.3,114.6 1511.8,114.6 1511.8,114.4 1514.0,114.4 1514.0,114.0 1515.4,114.0 1515.4,113.2 1517.8,113.2 1517.8,112.7 1520.4,112.7 1520.4,110.7 1524.0,110.7 1524.0,110.0 1527.0,110.0 1527.0,109.7 1528.4,109.7 1528.4,109.6 1531.5,109.6 1531.5,109.2 1533.7,109.2 1533.7,108.8 1535.6,108.8 1535.6,108.7 1538.8,108.7 1538.8,108.5 1541.5,108.5 1541.5,108.4 1544.0,108.4 1544.0,108.0 1548.0,108.0 1548.0,106.5 1550.0,106.5 1550.0,104.0 1553.2,104.0 1553.2,103.4 1555.3,103.4 1555.3,103.2 1557.2,103.2 1557.2,103.0 1559.6,103.0 1559.6,102.8 1561.6,102.8 1561.6,102.5 1563.3,102.5 1563.3,102.4 1568.0,102.4 1568.0,102.0 1569.7,102.0 1569.7,101.7 1571.5,101.7 1571.5,101.5 1574.8,101.5 1574.8,101.0 1578.6,101.0 1578.6,100.8 1580.0,100.8 1580.0,100.6 1606.0,100.5 1662.0,101.0" fill="none" stroke="#f0654a" stroke-width="3.40" stroke-linejoin="round" stroke-linecap="butt"/>
<polyline points="1114.0,407.6 1150.0,408.0 1153.2,408.0 1153.2,407.6 1154.6,407.6 1154.6,407.1 1156.0,407.1 1156.0,406.8 1159.3,406.8 1159.3,406.6 1161.1,406.6 1161.1,406.3 1164.0,406.3 1164.0,406.0 1168.0,406.0 1168.0,404.4 1170.0,404.4 1170.0,403.6 1172.6,403.6 1172.6,402.4 1174.7,402.4 1174.7,401.4 1176.0,401.4 1176.0,399.0 1177.9,399.0 1177.9,396.4 1180.6,396.4 1180.6,393.1 1183.7,393.1 1183.7,391.4 1186.0,391.4 1186.0,389.0 1190.8,389.0 1190.8,386.7 1193.0,386.7 1193.0,384.5 1194.4,384.5 1194.4,383.3 1196.0,383.3 1196.0,381.0 1199.8,381.0 1199.8,378.2 1202.0,378.2 1202.0,376.0 1203.9,376.0 1203.9,372.6 1208.0,372.6 1208.0,369.5 1209.7,369.5 1209.7,366.9 1213.7,366.9 1213.7,361.8 1215.6,361.8 1215.6,358.8 1216.9,358.8 1216.9,353.8 1220.7,353.8 1220.7,351.9 1223.1,351.9 1223.1,348.8 1224.6,348.8 1224.6,347.2 1227.7,347.2 1227.7,344.9 1231.2,344.9 1231.2,340.8 1233.3,340.8 1233.3,338.6 1235.2,338.6 1235.2,337.0 1237.5,337.0 1237.5,333.7 1240.4,333.7 1240.4,328.1 1243.7,328.1 1243.7,326.9 1246.0,326.9 1246.0,326.3 1247.4,326.3 1247.4,325.3 1248.7,325.3 1248.7,324.3 1252.2,324.3 1252.2,322.8 1254.4,322.8 1254.4,320.4 1256.7,320.4 1256.7,319.4 1259.0,319.4 1259.0,317.6 1261.4,317.6 1261.4,316.1 1263.1,316.1 1263.1,315.2 1266.8,315.2 1266.8,312.7 1268.4,312.7 1268.4,311.9 1270.4,311.9 1270.4,310.8 1273.3,310.8 1273.3,309.8 1276.0,309.8 1276.0,308.4 1277.3,308.4 1277.3,307.7 1279.9,307.7 1279.9,307.3 1284.0,307.3 1284.0,306.4 1285.3,306.4 1285.3,306.0 1288.0,306.0 1288.0,304.0 1292.0,304.0 1292.0,300.7 1294.0,300.7 1294.0,299.0 1297.2,299.0 1297.2,298.1 1299.3,298.1 1299.3,297.3 1301.9,297.3 1301.9,296.1 1304.0,296.1 1304.0,295.0 1306.4,295.0 1306.4,293.1 1308.0,293.1 1308.0,290.3 1312.0,290.3 1312.0,289.0 1313.9,289.0 1313.9,287.2 1316.1,287.2 1316.1,286.1 1319.1,286.1 1319.1,285.3 1320.4,285.3 1320.4,284.4 1324.0,284.4 1324.0,282.0 1326.6,282.0 1326.6,280.6 1328.2,280.6 1328.2,279.8 1330.3,279.8 1330.3,278.8 1332.0,278.8 1332.0,278.0 1336.0,278.0 1336.0,277.0 1338.4,277.0 1338.4,275.7 1341.0,275.7 1341.0,274.6 1343.1,274.6 1343.1,273.7 1346.0,273.7 1346.0,271.2 1348.0,271.2 1348.0,269.0 1351.1,269.0 1351.1,267.0 1354.4,267.0 1354.4,265.1 1356.6,265.1 1356.6,262.9 1358.0,262.9 1358.0,261.0 1360.7,261.0 1360.7,258.2 1362.3,258.2 1362.3,257.1 1364.0,257.1 1364.0,255.9 1368.7,255.9 1368.7,254.4 1372.4,254.4 1372.4,253.1 1374.1,253.1 1374.1,252.0 1376.0,252.0 1376.0,251.0 1378.4,251.0 1378.4,249.8 1381.6,249.8 1381.6,248.5 1384.0,248.5 1384.0,246.6 1387.7,246.6 1387.7,243.3 1389.2,243.3 1389.2,240.6 1392.0,240.6 1392.0,239.0 1393.4,239.0 1393.4,237.6 1396.3,237.6 1396.3,234.6 1397.9,234.6 1397.9,233.1 1400.4,233.1 1400.4,230.7 1402.5,230.7 1402.5,228.0 1406.1,228.0 1406.1,226.1 1409.2,226.1 1409.2,221.9 1411.2,221.9 1411.2,218.2 1414.6,218.2 1414.6,216.3 1417.3,216.3 1417.3,213.7 1419.4,213.7 1419.4,207.7 1423.0,207.7 1423.0,205.1 1425.5,205.1 1425.5,203.5 1427.3,203.5 1427.3,198.5 1430.0,198.5 1430.0,196.7 1432.7,196.7 1432.7,193.3 1435.1,193.3 1435.1,192.3 1437.0,192.3 1437.0,191.1 1439.0,191.1 1439.0,189.5 1443.3,189.5 1443.3,185.9 1444.6,185.9 1444.6,184.5 1446.0,184.5 1446.0,183.3 1448.9,183.3 1448.9,182.0 1450.0,182.0 1450.0,179.5 1453.0,179.5 1453.0,177.0 1455.0,177.0 1455.0,174.4 1456.5,174.4 1456.5,171.1 1460.0,171.1 1460.0,169.0 1463.0,169.0 1463.0,167.6 1464.8,167.6 1464.8,165.3 1467.0,165.3 1467.0,160.5 1470.0,160.5 1470.0,159.0 1471.9,159.0 1471.9,157.4 1475.5,157.4 1475.5,154.1 1478.0,154.1 1478.0,152.9 1480.0,152.9 1480.0,151.0 1481.5,151.0 1481.5,149.9 1483.7,149.9 1483.7,148.0 1487.2,148.0 1487.2,145.8 1490.0,145.8 1490.0,143.0 1491.5,143.0 1491.5,142.0 1492.9,142.0 1492.9,140.9 1494.6,140.9 1494.6,138.2 1500.0,138.2 1500.0,137.0 1502.1,137.0 1502.1,136.6 1503.9,136.6 1503.9,135.1 1506.7,135.1 1506.7,134.5 1508.4,134.5 1508.4,133.8 1510.1,133.8 1510.1,133.4 1514.0,133.4 1514.0,133.0 1517.3,133.0 1517.3,131.5 1519.2,131.5 1519.2,128.8 1520.9,128.8 1520.9,126.4 1523.6,126.4 1523.6,124.6 1526.0,124.6 1526.0,123.0 1527.6,123.0 1527.6,122.3 1530.0,122.3 1530.0,121.7 1532.0,121.7 1532.0,121.2 1535.1,121.2 1535.1,120.5 1538.2,120.5 1538.2,119.8 1540.0,119.8 1540.0,118.0 1542.3,118.0 1542.3,117.3 1543.8,117.3 1543.8,116.0 1545.4,116.0 1545.4,115.1 1548.0,115.1 1548.0,114.4 1550.9,114.4 1550.9,113.8 1556.0,113.8 1556.0,113.0 1557.4,113.0 1557.4,112.0 1561.0,112.0 1561.0,111.3 1563.6,111.3 1563.6,109.1 1566.0,109.1 1566.0,108.0 1569.1,108.0 1569.1,107.8 1570.4,107.8 1570.4,107.6 1573.4,107.6 1573.4,106.9 1575.3,106.9 1575.3,106.5 1578.1,106.5 1578.1,106.3 1580.0,106.3 1580.0,106.0 1583.2,106.0 1583.2,105.0 1586.0,105.0 1586.0,103.5 1587.4,103.5 1587.4,103.3 1590.4,103.3 1590.4,103.2 1593.1,103.2 1593.1,102.8 1596.5,102.8 1596.5,102.5 1598.1,102.5 1598.1,102.3 1600.5,102.3 1600.5,102.1 1603.0,102.1 1603.0,102.0 1604.8,102.0 1604.8,101.4 1607.0,101.4 1607.0,100.8 1662.0,101.0" fill="none" stroke="#1fb3ad" stroke-width="3.40" stroke-linejoin="round" stroke-linecap="butt"/>
<polyline points="1114.0,407.6 1138.0,407.0 1140.6,407.0 1140.6,406.6 1142.1,406.6 1142.1,406.3 1144.9,406.3 1144.9,406.0 1146.6,406.0 1146.6,405.4 1150.0,405.4 1150.0,405.0 1152.8,405.0 1152.8,404.1 1154.0,404.1 1154.0,403.0 1158.8,403.0 1158.8,402.8 1160.4,402.8 1160.4,402.5 1162.0,402.5 1162.0,402.4 1164.0,402.4 1164.0,402.0 1165.8,402.0 1165.8,401.5 1168.7,401.5 1168.7,401.1 1172.7,401.1 1172.7,400.5 1174.1,400.5 1174.1,399.4 1176.0,399.4 1176.0,398.0 1178.4,398.0 1178.4,397.6 1180.1,397.6 1180.1,397.0 1182.8,397.0 1182.8,395.7 1185.4,395.7 1185.4,395.2 1187.6,395.2 1187.6,394.4 1190.0,394.4 1190.0,394.0 1192.4,394.0 1192.4,392.5 1195.2,392.5 1195.2,389.9 1198.0,389.9 1198.0,388.0 1200.4,388.0 1200.4,384.4 1203.2,384.4 1203.2,383.2 1205.6,383.2 1205.6,381.7 1208.0,381.7 1208.0,379.0 1210.0,379.0 1210.0,373.0 1212.3,373.0 1212.3,369.5 1215.8,369.5 1215.8,367.3 1218.5,367.3 1218.5,364.9 1220.7,364.9 1220.7,361.8 1223.0,361.8 1223.0,359.1 1225.1,359.1 1225.1,357.8 1227.7,357.8 1227.7,356.1 1229.0,356.1 1229.0,354.2 1231.9,354.2 1231.9,350.5 1234.2,350.5 1234.2,349.0 1235.6,349.0 1235.6,347.0 1239.0,347.0 1239.0,344.9 1240.8,344.9 1240.8,343.9 1243.7,343.9 1243.7,342.9 1246.0,342.9 1246.0,342.1 1248.4,342.1 1248.4,339.7 1251.6,339.7 1251.6,336.5 1253.4,336.5 1253.4,335.6 1256.5,335.6 1256.5,333.8 1258.6,333.8 1258.6,332.3 1259.9,332.3 1259.9,328.9 1262.8,328.9 1262.8,326.7 1265.6,326.7 1265.6,325.8 1267.7,325.8 1267.7,324.4 1269.8,324.4 1269.8,323.2 1271.6,323.2 1271.6,319.1 1276.0,319.1 1276.0,316.8 1280.0,316.8 1280.0,315.8 1282.2,315.8 1282.2,314.5 1284.0,314.5 1284.0,313.0 1285.6,313.0 1285.6,311.5 1287.5,311.5 1287.5,310.9 1292.0,310.9 1292.0,310.0 1295.1,310.0 1295.1,309.0 1297.9,309.0 1297.9,303.2 1300.6,303.2 1300.6,301.8 1303.5,301.8 1303.5,301.0 1306.2,301.0 1306.2,300.3 1308.0,300.3 1308.0,299.0 1311.0,299.0 1311.0,297.6 1312.9,297.6 1312.9,296.0 1315.9,296.0 1315.9,294.5 1318.1,294.5 1318.1,293.5 1320.0,293.5 1320.0,291.0 1323.1,291.0 1323.1,289.0 1325.1,289.0 1325.1,287.4 1327.1,287.4 1327.1,286.5 1329.1,286.5 1329.1,285.4 1332.0,285.4 1332.0,284.0 1334.0,284.0 1334.0,282.6 1336.5,282.6 1336.5,280.9 1338.7,280.9 1338.7,280.0 1341.2,280.0 1341.2,278.6 1344.0,278.6 1344.0,277.0 1347.4,277.0 1347.4,274.6 1349.4,274.6 1349.4,273.3 1352.0,273.3 1352.0,272.0 1353.9,272.0 1353.9,270.9 1355.6,270.9 1355.6,270.1 1356.9,270.1 1356.9,267.7 1359.9,267.7 1359.9,265.8 1364.0,265.8 1364.0,265.0 1368.0,265.0 1368.0,263.3 1370.0,263.3 1370.0,259.0 1373.6,259.0 1373.6,257.8 1375.5,257.8 1375.5,255.6 1377.3,255.6 1377.3,254.3 1378.7,254.3 1378.7,251.7 1380.4,251.7 1380.4,248.2 1384.0,248.2 1384.0,247.0 1386.1,247.0 1386.1,244.8 1390.1,244.8 1390.1,241.6 1392.1,241.6 1392.1,239.5 1395.3,239.5 1395.3,238.8 1399.1,238.8 1399.1,237.8 1401.1,237.8 1401.1,236.4 1403.3,236.4 1403.3,234.6 1406.9,234.6 1406.9,231.7 1409.0,231.7 1409.0,230.2 1410.4,230.2 1410.4,228.5 1414.3,228.5 1414.3,227.7 1416.0,227.7 1416.0,227.3 1417.6,227.3 1417.6,223.9 1420.2,223.9 1420.2,222.1 1423.0,222.1 1423.0,220.5 1427.1,220.5 1427.1,218.6 1428.5,218.6 1428.5,216.8 1430.0,216.8 1430.0,213.5 1431.6,213.5 1431.6,212.6 1434.2,212.6 1434.2,212.1 1435.9,212.1 1435.9,206.2 1439.8,206.2 1439.8,202.3 1441.9,202.3 1441.9,199.5 1446.0,199.5 1446.0,196.7 1447.7,196.7 1447.7,194.1 1450.6,194.1 1450.6,192.2 1454.0,192.2 1454.0,189.0 1456.2,189.0 1456.2,186.1 1457.8,186.1 1457.8,180.9 1462.0,180.9 1462.0,178.0 1463.6,178.0 1463.6,175.2 1468.1,175.2 1468.1,173.8 1470.5,173.8 1470.5,172.2 1472.0,172.2 1472.0,170.0 1475.3,170.0 1475.3,168.8 1478.2,168.8 1478.2,167.0 1480.4,167.0 1480.4,163.4 1482.0,163.4 1482.0,162.0 1484.8,162.0 1484.8,159.4 1487.3,159.4 1487.3,158.2 1489.6,158.2 1489.6,156.2 1492.0,156.2 1492.0,155.0 1493.5,155.0 1493.5,153.6 1495.7,153.6 1495.7,150.9 1497.8,150.9 1497.8,148.5 1502.0,148.5 1502.0,147.0 1503.9,147.0 1503.9,145.3 1508.1,145.3 1508.1,144.2 1509.9,144.2 1509.9,142.7 1511.8,142.7 1511.8,140.9 1514.0,140.9 1514.0,140.0 1515.7,140.0 1515.7,139.0 1518.1,139.0 1518.1,137.5 1519.9,137.5 1519.9,136.1 1524.0,136.1 1524.0,135.0 1525.7,135.0 1525.7,133.9 1528.6,133.9 1528.6,131.8 1530.9,131.8 1530.9,129.9 1534.0,129.9 1534.0,129.0 1536.9,129.0 1536.9,128.3 1539.2,128.3 1539.2,127.8 1540.9,127.8 1540.9,126.4 1546.1,126.4 1546.1,126.0 1547.7,126.0 1547.7,125.6 1550.0,125.6 1550.0,125.0 1551.9,125.0 1551.9,123.2 1554.7,123.2 1554.7,121.7 1557.5,121.7 1557.5,121.0 1560.0,121.0 1560.0,120.0 1563.8,120.0 1563.8,119.4 1566.3,119.4 1566.3,118.0 1568.2,118.0 1568.2,116.9 1570.0,116.9 1570.0,116.0 1573.6,116.0 1573.6,115.2 1576.0,115.2 1576.0,114.8 1578.4,114.8 1578.4,114.4 1580.0,114.4 1580.0,114.0 1583.2,114.0 1583.2,111.6 1585.0,111.6 1585.0,110.0 1587.4,110.0 1587.4,109.8 1593.3,109.8 1593.3,109.5 1595.2,109.5 1595.2,109.3 1597.1,109.3 1597.1,108.8 1598.6,108.8 1598.6,108.2 1600.0,108.2 1600.0,108.0 1603.5,108.0 1603.5,106.6 1605.3,106.6 1605.3,105.0 1607.0,105.0 1607.0,104.0 1610.1,104.0 1610.1,103.3 1612.0,103.3 1612.0,102.5 1637.0,102.0 1661.5,101.2" fill="none" stroke="#556b2f" stroke-width="3.40" stroke-linejoin="round" stroke-linecap="butt"/>
<line x1="1352.9" y1="88.2" x2="1352.9" y2="417.8" stroke="#ea0000" stroke-width="4.5"/>
<text x="1057.7" y="419.0" font-size="23.0" fill="#5e6868" textLength="42.8" lengthAdjust="spacingAndGlyphs">0.00</text>
<text x="1057.7" y="341.9" font-size="23.0" fill="#5e6868" textLength="42.8" lengthAdjust="spacingAndGlyphs">0.25</text>
<text x="1057.7" y="263.8" font-size="23.0" fill="#5e6868" textLength="42.8" lengthAdjust="spacingAndGlyphs">0.50</text>
<text x="1057.7" y="187.4" font-size="23.0" fill="#5e6868" textLength="42.8" lengthAdjust="spacingAndGlyphs">0.75</text>
<text x="1057.7" y="112.2" font-size="23.0" fill="#5e6868" textLength="42.8" lengthAdjust="spacingAndGlyphs">1.00</text>
<text x="1129.9" y="454.3" font-size="23.0" fill="#5e6868" textLength="12.2" lengthAdjust="spacingAndGlyphs">0</text>
<text x="1233.8" y="454.3" font-size="23.0" fill="#5e6868" textLength="24.5" lengthAdjust="spacingAndGlyphs">50</text>
<text x="1338.2" y="454.3" font-size="23.0" fill="#5e6868" textLength="36.7" lengthAdjust="spacingAndGlyphs">100</text>
<text x="1447.7" y="454.3" font-size="23.0" fill="#5e6868" textLength="36.7" lengthAdjust="spacingAndGlyphs">150</text>
<text x="1557.4" y="454.3" font-size="23.0" fill="#5e6868" textLength="36.7" lengthAdjust="spacingAndGlyphs">200</text>
<text x="1283.0" y="64.6" font-size="30.0" font-weight="bold" fill="#000" stroke="#000" stroke-width="0.3" textLength="177.0" lengthAdjust="spacingAndGlyphs">8 weeks old</text>
<text x="1190.0" y="490.8" font-size="23.0" font-weight="bold" fill="#000" stroke="#000" stroke-width="0.3" textLength="326.0" lengthAdjust="spacingAndGlyphs">Distance from the CC centre</text>
<text transform="translate(1033.5,395.2) rotate(-90)" font-size="23.5" font-weight="bold" fill="#000" stroke="#000" stroke-width="0.3" textLength="258.5" lengthAdjust="spacingAndGlyphs">Cumulative probability</text>
<text x="958.5" y="28.0" font-size="29.5" font-weight="bold" fill="#000" stroke="#000" stroke-width="0.3" textLength="18.5" lengthAdjust="spacingAndGlyphs">B</text>
<line x1="1706.3" y1="208.8" x2="1742.4" y2="208.8" stroke="#00008b" stroke-width="3.6"/>
<text x="1751.7" y="216.5" font-size="22.0" fill="#1a1a1a" stroke="#1a1a1a" stroke-width="0.35" textLength="87.0" lengthAdjust="spacingAndGlyphs">Cervical</text>
<line x1="1706.3" y1="251.4" x2="1742.4" y2="251.4" stroke="#f0654a" stroke-width="3.6"/>
<text x="1753.5" y="256.2" font-size="22.0" fill="#1a1a1a" stroke="#1a1a1a" stroke-width="0.35" textLength="142.5" lengthAdjust="spacingAndGlyphs">High thoracic</text>
<line x1="1706.3" y1="294.8" x2="1742.4" y2="294.8" stroke="#1fb3ad" stroke-width="3.6"/>
<text x="1753.5" y="301.1" font-size="22.0" fill="#1a1a1a" stroke="#1a1a1a" stroke-width="0.35" textLength="137.0" lengthAdjust="spacingAndGlyphs">Low thoracic</text>
<line x1="1706.3" y1="339.1" x2="1742.4" y2="339.1" stroke="#556b2f" stroke-width="3.6"/>
<text x="1755.2" y="342.5" font-size="22.0" fill="#1a1a1a" stroke="#1a1a1a" stroke-width="0.35" textLength="83.5" lengthAdjust="spacingAndGlyphs">Lumbar</text>
</g></svg></body></html>
